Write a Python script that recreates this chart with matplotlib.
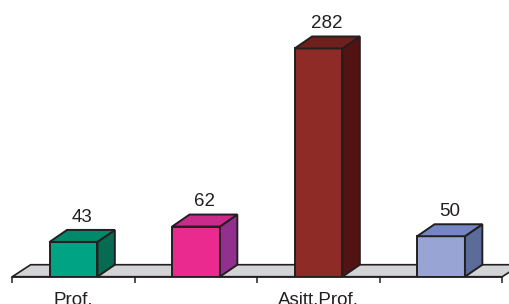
import matplotlib
matplotlib.use("Agg")
import matplotlib.pyplot as plt
from matplotlib.patches import Polygon

# data
categories = ["Prof.", "", "Asitt.Prof.", ""]
values = [43, 62, 282, 50]
front_colors = ["#00A383", "#EA2A8F", "#8E2B26", "#98A4D4"]
side_colors = ["#066B50", "#923090", "#521312", "#5B6B9A"]
top_colors = ["#008A6C", "#C92B8B", "#6F1F1C", "#7486C3"]

EDGE = "#231F20"
BAR_W = 0.39
DX, DY = 0.142, 14.8        # fake depth, in data units
FLOOR_DX = 0.15

plt.rcParams["font.family"] = ["Liberation Sans", "DejaVu Sans"]

fig = plt.figure(figsize=(5.09, 3.04), dpi=100)
ax = fig.add_axes([12.3 / 509, 27.3 / 304, 490 / 509, 259 / 304])
ax.set_xlim(-0.5, 3.5)
ax.set_ylim(0, 320)

# gray floor
floor = Polygon([(-0.5, 0), (3.5, 0), (3.5 + FLOOR_DX, DY), (-0.5 + FLOOR_DX, DY)],
                closed=True, facecolor="#D3D4D6", edgecolor=EDGE, lw=1.2,
                clip_on=False, zorder=1)
ax.add_patch(floor)

xs = list(range(len(values)))
ax.bar(xs, values, width=BAR_W, color=front_colors, edgecolor=EDGE,
       linewidth=1.4, zorder=3)

for x, v, sc, tc in zip(xs, values, side_colors, top_colors):
    l, r = x - BAR_W / 2, x + BAR_W / 2
    side = Polygon([(r, 0), (r + DX, DY), (r + DX, v + DY), (r, v)],
                   closed=True, facecolor=sc, edgecolor=EDGE, lw=1.4,
                   zorder=3, clip_on=False)
    top = Polygon([(l, v), (r, v), (r + DX, v + DY), (l + DX, v + DY)],
                  closed=True, facecolor=tc, edgecolor=EDGE, lw=1.4,
                  zorder=3, clip_on=False)
    ax.add_patch(side)
    ax.add_patch(top)
    ax.text(x + DX / 2, v + DY + 5, str(v), ha="center", va="bottom",
            fontsize=13.5, color="#231F20", clip_on=False)

for s in ["top", "right", "left"]:
    ax.spines[s].set_visible(False)
ax.spines["bottom"].set_color(EDGE)
ax.spines["bottom"].set_linewidth(1.2)
ax.set_yticks([])
ax.set_xticks([-0.5, 0.5, 1.5, 2.5, 3.5])
ax.set_xticklabels([])
ax.set_xticks(xs, minor=True)
ax.set_xticklabels(categories, minor=True, fontsize=13.5, color="#231F20")
ax.tick_params(axis="x", which="major", direction="out", length=4.3,
               width=1.1, color=EDGE)
ax.tick_params(axis="x", which="minor", length=0, pad=11)
ax.patch.set_visible(False)

fig.savefig("out.png", dpi=100)
